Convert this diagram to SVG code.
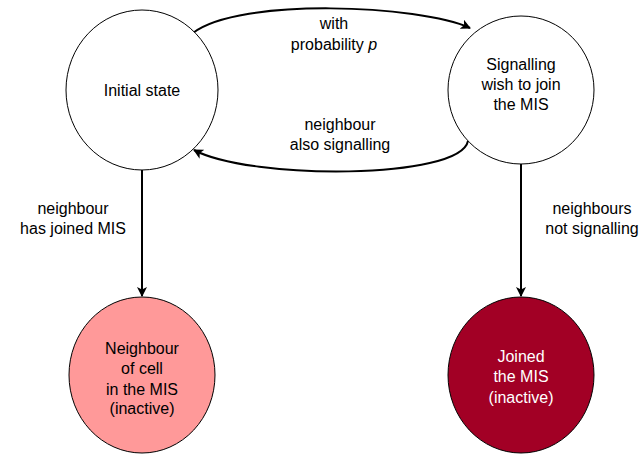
<svg xmlns="http://www.w3.org/2000/svg" width="639" height="455" viewBox="0 0 639 455">
<defs>
<marker id="arr" viewBox="0 0 10 10" refX="9" refY="5" markerWidth="5" markerHeight="5" orient="auto" markerUnits="strokeWidth">
<path d="M0,0 L10,5 L0,10 L2.5,5 Z" fill="#000"/>
</marker>
<style>
text{font-family:"Liberation Sans",Arial,sans-serif;font-size:16px;fill:#000;text-anchor:middle}
.node{stroke:#000;stroke-width:1}
.edge{fill:none;stroke:#000;stroke-width:2;marker-end:url(#arr)}
.w{fill:#fff}
</style>
</defs>
<rect width="639" height="455" fill="#fff"/>
<g id="connectors">
<path class="edge" d="M193,33 C240,-3 420,5 470,28"/>
<path class="edge" d="M468,141 C460,180 250,180 194,150"/>
<path class="edge" d="M142,170 L142,296"/>
<path class="edge" d="M521,164 L521,296"/>
<text x="334" y="29">with</text>
<text x="334" y="50">probability <tspan font-style="italic">p</tspan></text>
<text x="340" y="130">neighbour</text>
<text x="340" y="150">also signalling</text>
<text x="73" y="214">neighbour</text>
<text x="73" y="234">has joined MIS</text>
<text x="592" y="214">neighbours</text>
<text x="592" y="234">not signalling</text>
</g>
<g id="initial">
<ellipse class="node" cx="142" cy="90" rx="76" ry="80" fill="#fff"/>
<text x="142" y="96">Initial state</text>
</g>
<g id="signalling">
<ellipse class="node" cx="521" cy="90" rx="73" ry="74" fill="#fff"/>
<text x="521" y="70">Signalling</text>
<text x="521" y="90">wish to join</text>
<text x="521" y="110">the MIS</text>
</g>
<g id="neighbour">
<ellipse class="node" cx="142" cy="375" rx="73" ry="78" fill="#FF9999" stroke-width="1.5"/>
<text x="142" y="354">Neighbour</text>
<text x="142" y="374">of cell</text>
<text x="142" y="395">in the MIS</text>
<text x="142" y="414">(inactive)</text>
</g>
<g id="joined">
<ellipse class="node" cx="521" cy="375" rx="73" ry="78" fill="#A20025" stroke-width="1.5"/>
<text class="w" x="521" y="362">Joined</text>
<text class="w" x="521" y="382">the MIS</text>
<text class="w" x="521" y="403">(inactive)</text>
</g>
</svg>
